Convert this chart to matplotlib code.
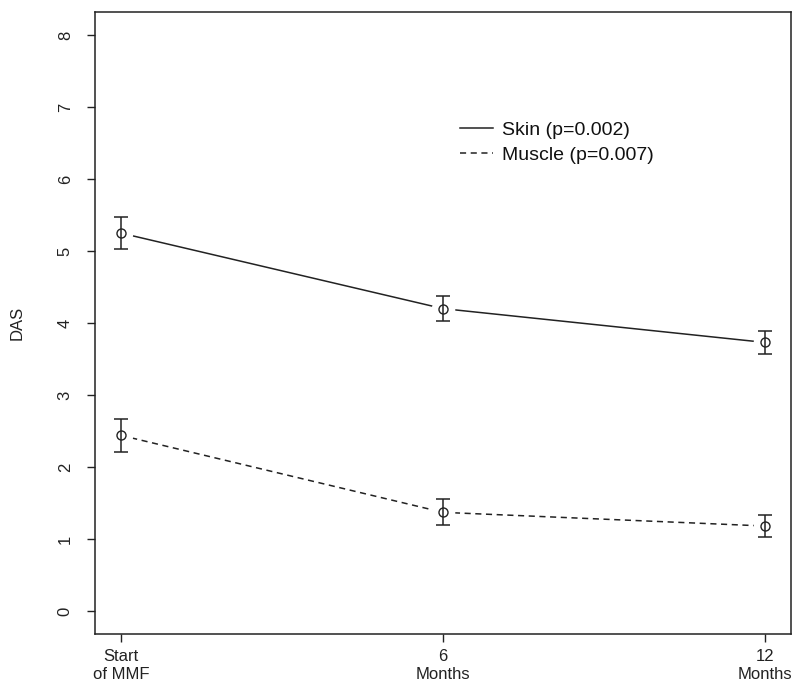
import numpy as np
import matplotlib
matplotlib.use('Agg')
import matplotlib.pyplot as plt

plt.rcParams['font.family'] = ['Liberation Sans', 'DejaVu Sans']

# months since start of MMF
months = [0, 6, 12]
month_labels = ['Start\nof MMF', '6\nMonths', '12\nMonths']

skin_mean = [5.25, 4.20, 3.73]
skin_err = [0.22, 0.17, 0.165]
muscle_mean = [2.44, 1.37, 1.18]
muscle_err = [0.225, 0.18, 0.155]

ink = '#222222'

fig = plt.figure(figsize=(8, 6.92), dpi=100)
ax = fig.add_axes([0.11875, 0.0838, 0.87, 0.8988])

series = [
    (skin_mean, skin_err, '-', 'Skin (p=0.002)'),
    (muscle_mean, muscle_err, (0, (4, 3)), 'Muscle (p=0.007)'),
]
for mean, err, ls, label in series:
    ax.plot(months, mean, color=ink, lw=1.1, ls=ls, label=label, zorder=2)
    # white gap round each point like R type="b"
    ax.plot(months, mean, ls='none', marker='o', ms=17, mfc='white',
            mec='none', zorder=3)
    ax.errorbar(months, mean, yerr=err, fmt='o', ms=6.5, mfc='none',
                mec=ink, ecolor=ink, elinewidth=1.1, capsize=5,
                capthick=1.1, color=ink, zorder=4)

ax.set_xlim(-0.48, 12.48)
ax.set_ylim(-0.32, 8.32)
ax.set_xticks(months)
ax.set_xticklabels(month_labels, fontsize=12, color=ink, linespacing=1.25)
ax.set_yticks(range(0, 9))
ax.set_yticklabels([str(v) for v in range(0, 9)], fontsize=12,
                   color=ink, rotation=90, va='center')
ax.tick_params(direction='out', length=6, width=1, color=ink, pad=5)
ax.tick_params(axis='y', pad=10)
for sp in ax.spines.values():
    sp.set_color(ink)
    sp.set_linewidth(1.1)
ax.set_ylabel('DAS', fontsize=12, color=ink, labelpad=24)

leg = ax.legend(loc='upper left', bbox_to_anchor=(0.513, 0.837),
                frameon=False, fontsize=14, handlelength=1.7,
                handletextpad=0.45, labelspacing=0.38, borderaxespad=0)
for txt in leg.get_texts():
    txt.set_color('#111111')

fig.savefig('out.png', dpi=100)
